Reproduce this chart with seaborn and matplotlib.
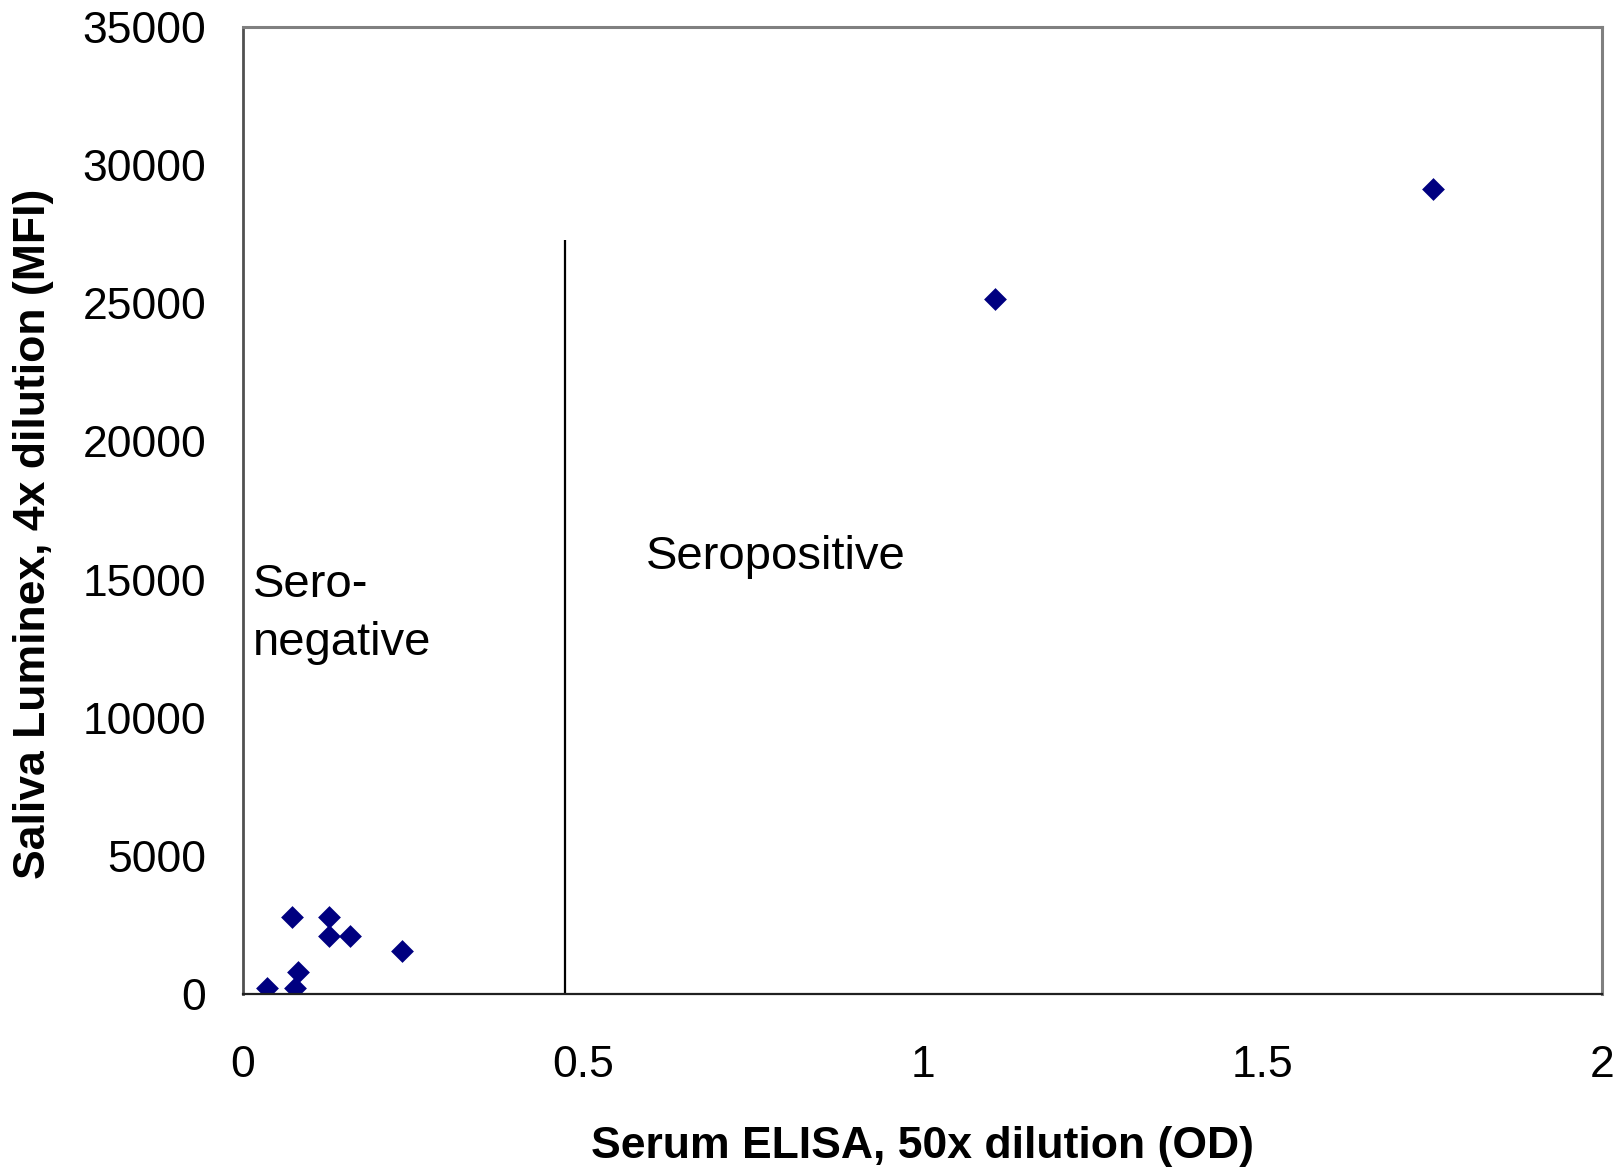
import matplotlib
matplotlib.use('Agg')
import matplotlib.pyplot as plt
import seaborn as sns

# Data
serum_od = [0.036, 0.077, 0.081, 0.072, 0.126, 0.126, 0.157, 0.234, 1.107, 1.752]
saliva_mfi = [230, 230, 810, 2780, 2780, 2100, 2100, 1560, 25140, 29120]

cutoff_od = 0.474
cutoff_top = 27300

sns.set_style('white')
plt.rcParams['font.family'] = ['Liberation Sans', 'DejaVu Sans']
plt.rcParams['text.color'] = 'black'
plt.rcParams['axes.labelcolor'] = 'black'
plt.rcParams['xtick.color'] = 'black'
plt.rcParams['ytick.color'] = 'black'

fig = plt.figure(figsize=(16.19, 11.68), dpi=100)
axes = fig.add_axes([0.1501, 0.149, 0.8394, 0.8279])

sns.scatterplot(x=serum_od, y=saliva_mfi, marker='D', color='#000080',
                s=135, linewidth=0, ax=axes)

# Cut-off line between sero-negative and sero-positive
axes.vlines(cutoff_od, 0, cutoff_top, color='black', linewidth=1.6)

axes.text(0.015, 14790, 'Sero-', fontsize=34, va='center', ha='left')
axes.text(0.015, 12690, 'negative', fontsize=34, va='center', ha='left')
axes.text(0.593, 15830, 'Seropositive', fontsize=34, va='center', ha='left')

axes.set_xlim(0, 2)
axes.set_ylim(0, 35000)
axes.set_xticks([0, 0.5, 1, 1.5, 2])
axes.set_xticklabels(['0', '0.5', '1', '1.5', '2'])
axes.set_yticks(range(0, 35001, 5000))

axes.set_xlabel('Serum ELISA, 50x dilution (OD)', fontsize=32, fontweight='bold', labelpad=29)
axes.set_ylabel('Saliva Luminex, 4x dilution (MFI)', fontsize=32, fontweight='bold')
axes.yaxis.set_label_coords(-0.139, 0.476)

axes.tick_params(axis='both', which='major', labelsize=32, length=11,
                 width=1.2, color='#404040', direction='out')
axes.tick_params(axis='x', pad=25.5)
axes.tick_params(axis='y', pad=15.5)

for side in ['top', 'right']:
    axes.spines[side].set_color('#808080')
    axes.spines[side].set_linewidth(2.2)
axes.spines['left'].set_color('#505050')
axes.spines['left'].set_linewidth(2.0)
axes.spines['bottom'].set_color('#202020')
axes.spines['bottom'].set_linewidth(1.6)

fig.savefig('out.png', dpi=100)
